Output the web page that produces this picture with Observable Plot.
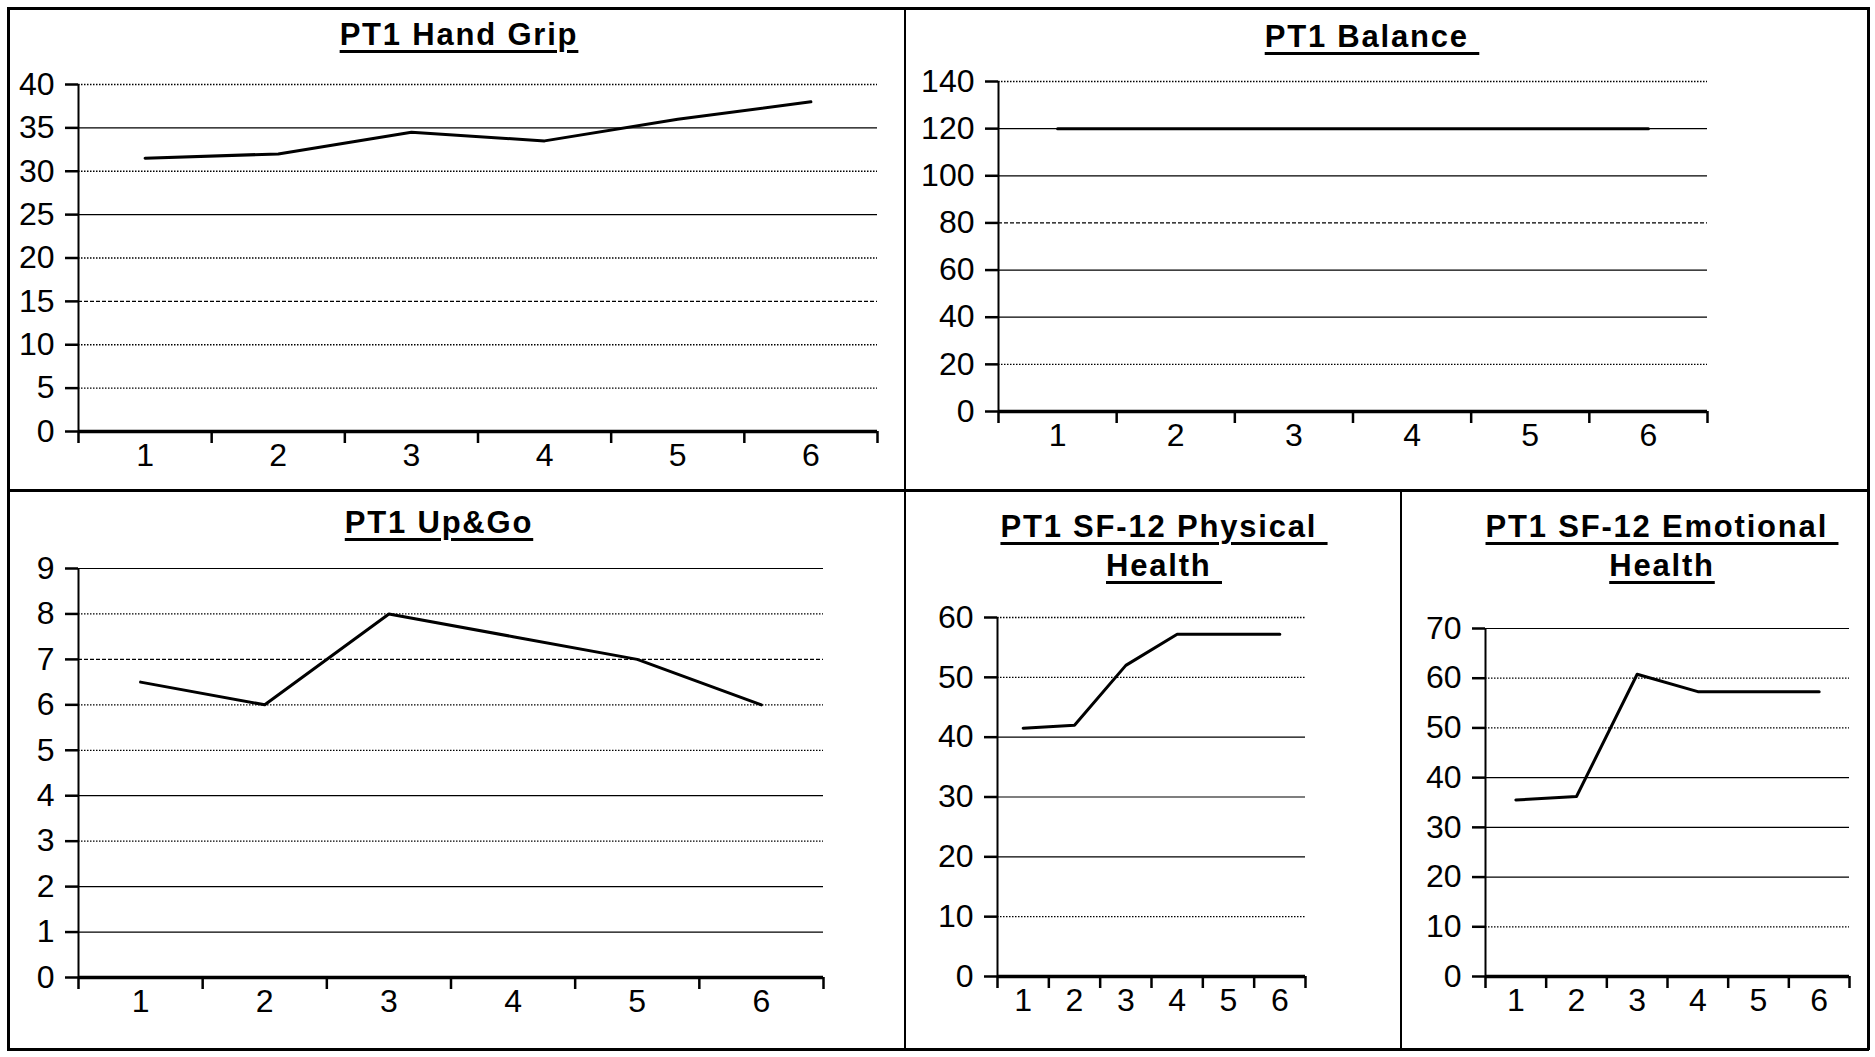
<!DOCTYPE html>
<html>
<head>
<meta charset="utf-8">
<script src="https://cdn.jsdelivr.net/npm/d3@7"></script>
<script src="https://cdn.jsdelivr.net/npm/@observablehq/plot@0.6"></script>
<style>
  html, body { margin: 0; padding: 0; background: #fff; }
  #root { position: relative; width: 1875px; height: 1057px; overflow: hidden; background: #fff; font-family: "Liberation Sans", Arial, sans-serif; }
  .line { position: absolute; background: #000; }
  .title { position: absolute; width: 700px; text-align: center; white-space: pre; font-weight: bold; font-size: 31px; letter-spacing: 1.8px; line-height: 38.5px; color: #000;
           text-decoration: underline; text-decoration-thickness: 3px; text-underline-offset: 5px; }
  .panel { position: absolute; }
</style>
</head>
<body>
<div id="root"></div>
<script>
// ---- data ----
const sessions = [1, 2, 3, 4, 5, 6];
const handGrip = [31.5, 32, 34.5, 33.5, 36, 38];
const balance = [120, 120, 120, 120, 120, 120];
const upAndGo = [6.5, 6, 8, 7.5, 7, 6];
const sf12Physical = [41.5, 42, 52, 57.2, 57.2, 57.2];
const sf12Emotional = [35.5, 36.2, 60.8, 57.3, 57.3, 57.3];

const gripTicks = [0, 5, 10, 15, 20, 25, 30, 35, 40];
const balanceTicks = [0, 20, 40, 60, 80, 100, 120, 140];
const upGoTicks = [0, 1, 2, 3, 4, 5, 6, 7, 8, 9];
const physTicks = [0, 10, 20, 30, 40, 50, 60];
const emoTicks = [0, 10, 20, 30, 40, 50, 60, 70];

const titles = {
  grip: "PT1 Hand Grip",
  balance: "PT1 Balance ",
  upgo: "PT1 Up&Go",
  phys: "PT1 SF-12 Physical \nHealth ",
  emo: "PT1 SF-12 Emotional \nHealth"
};

// ---- layout (styles, not data) ----
const root = document.getElementById("root");
function hline(x, y, w, t) { const d = document.createElement("div"); d.className = "line"; Object.assign(d.style, {left: x + "px", top: (y - t / 2) + "px", width: w + "px", height: t + "px"}); root.appendChild(d); }
function vline(x, y, h, t) { const d = document.createElement("div"); d.className = "line"; Object.assign(d.style, {left: (x - t / 2) + "px", top: y + "px", width: t + "px", height: h + "px"}); root.appendChild(d); }
// outer frame & dividers
hline(7, 8, 1862, 3); hline(7, 1049, 1862, 3);
vline(8, 7, 1043, 3); vline(1868, 7, 1043, 3);
hline(7, 490, 1862, 3);
vline(905, 7, 1043, 2.5);
vline(1401, 490, 560, 2.5);

function title(text, cx, baseline) {
  const d = document.createElement("div");
  d.className = "title";
  d.textContent = text;
  d.style.left = (cx - 350) + "px";
  d.style.top = (baseline - 29) + "px";
  root.appendChild(d);
}

const DOT = "1.5,1.5", DASH = "4,2", SOLID = null;

function panel(values, ticks, frame, gridStyles) {
  const mL = 80, mR = 12, mT = 20, mB = 60;
  const w = frame.x1 - frame.x0, h = frame.yb - frame.yt;
  const data = sessions.map((s, i) => ({s, v: values[i]}));
  const grid = ticks.slice(1).map((t, i) => ({t, dash: gridStyles[i]}));
  const bounds = sessions.map(s => s - 0.5).concat([sessions[sessions.length - 1] + 0.5]);
  const ymax = ticks[ticks.length - 1];
  const chart = Plot.plot({
    width: w + mL + mR,
    height: h + mT + mB,
    marginLeft: mL, marginRight: mR, marginTop: mT, marginBottom: mB,
    style: {fontFamily: '"Liberation Sans", Arial, sans-serif', color: "#000", background: "transparent", overflow: "visible"},
    x: {domain: [bounds[0], bounds[bounds.length - 1]], axis: null, label: null},
    y: {domain: [0, ymax], axis: null, label: null},
    marks: [
      ...grid.map(g => Plot.ruleY([g.t], {stroke: "#000", strokeWidth: g.dash ? 1.3 : 1.2, strokeDasharray: g.dash})),
      Plot.axisY({ticks, label: null, tickSize: 13, tickPadding: 11, strokeWidth: 2.5, fontSize: 32, tickFormat: d3.format("d")}),
      Plot.axisX({ticks: bounds, label: null, tickSize: 12, strokeWidth: 2.5, tickFormat: () => ""}),
      Plot.axisX({ticks: sessions, label: null, tickSize: 0, tickPadding: 12, fontSize: 32, tickFormat: d3.format("d")}),
      Plot.ruleX([bounds[0]], {stroke: "#000", strokeWidth: 2}),
      Plot.ruleY([0], {stroke: "#000", strokeWidth: 3.5}),
      Plot.line(data, {x: "s", y: "v", stroke: "#000", strokeWidth: 3})
    ]
  });
  chart.classList.add("panel");
  chart.style.left = (frame.x0 - mL) + "px";
  chart.style.top = (frame.yt - mT) + "px";
  root.appendChild(chart);
}

// Hand Grip
title(titles.grip, 459, 45);
panel(handGrip, gripTicks, {x0: 78, x1: 877, yt: 84, yb: 431}, [DOT, DOT, DASH, DOT, SOLID, DOT, SOLID, DOT]);
// Balance
title(titles.balance, 1372, 47);
panel(balance, balanceTicks, {x0: 998, x1: 1707, yt: 81, yb: 411}, [DOT, SOLID, SOLID, DASH, SOLID, SOLID, DOT]);
// Up & Go
title(titles.upgo, 439, 533);
panel(upAndGo, upGoTicks, {x0: 78, x1: 823, yt: 568, yb: 977}, [SOLID, SOLID, DOT, SOLID, DOT, DOT, DASH, DOT, SOLID]);
// SF-12 Physical
title(titles.phys, 1164, 537);
panel(sf12Physical, physTicks, {x0: 997, x1: 1305, yt: 617, yb: 976}, [DOT, SOLID, SOLID, SOLID, DOT, DOT]);
// SF-12 Emotional
title(titles.emo, 1662, 537);
panel(sf12Emotional, emoTicks, {x0: 1485, x1: 1849, yt: 628, yb: 976}, [DOT, SOLID, SOLID, SOLID, DOT, DOT, SOLID]);
</script>
</body>
</html>
